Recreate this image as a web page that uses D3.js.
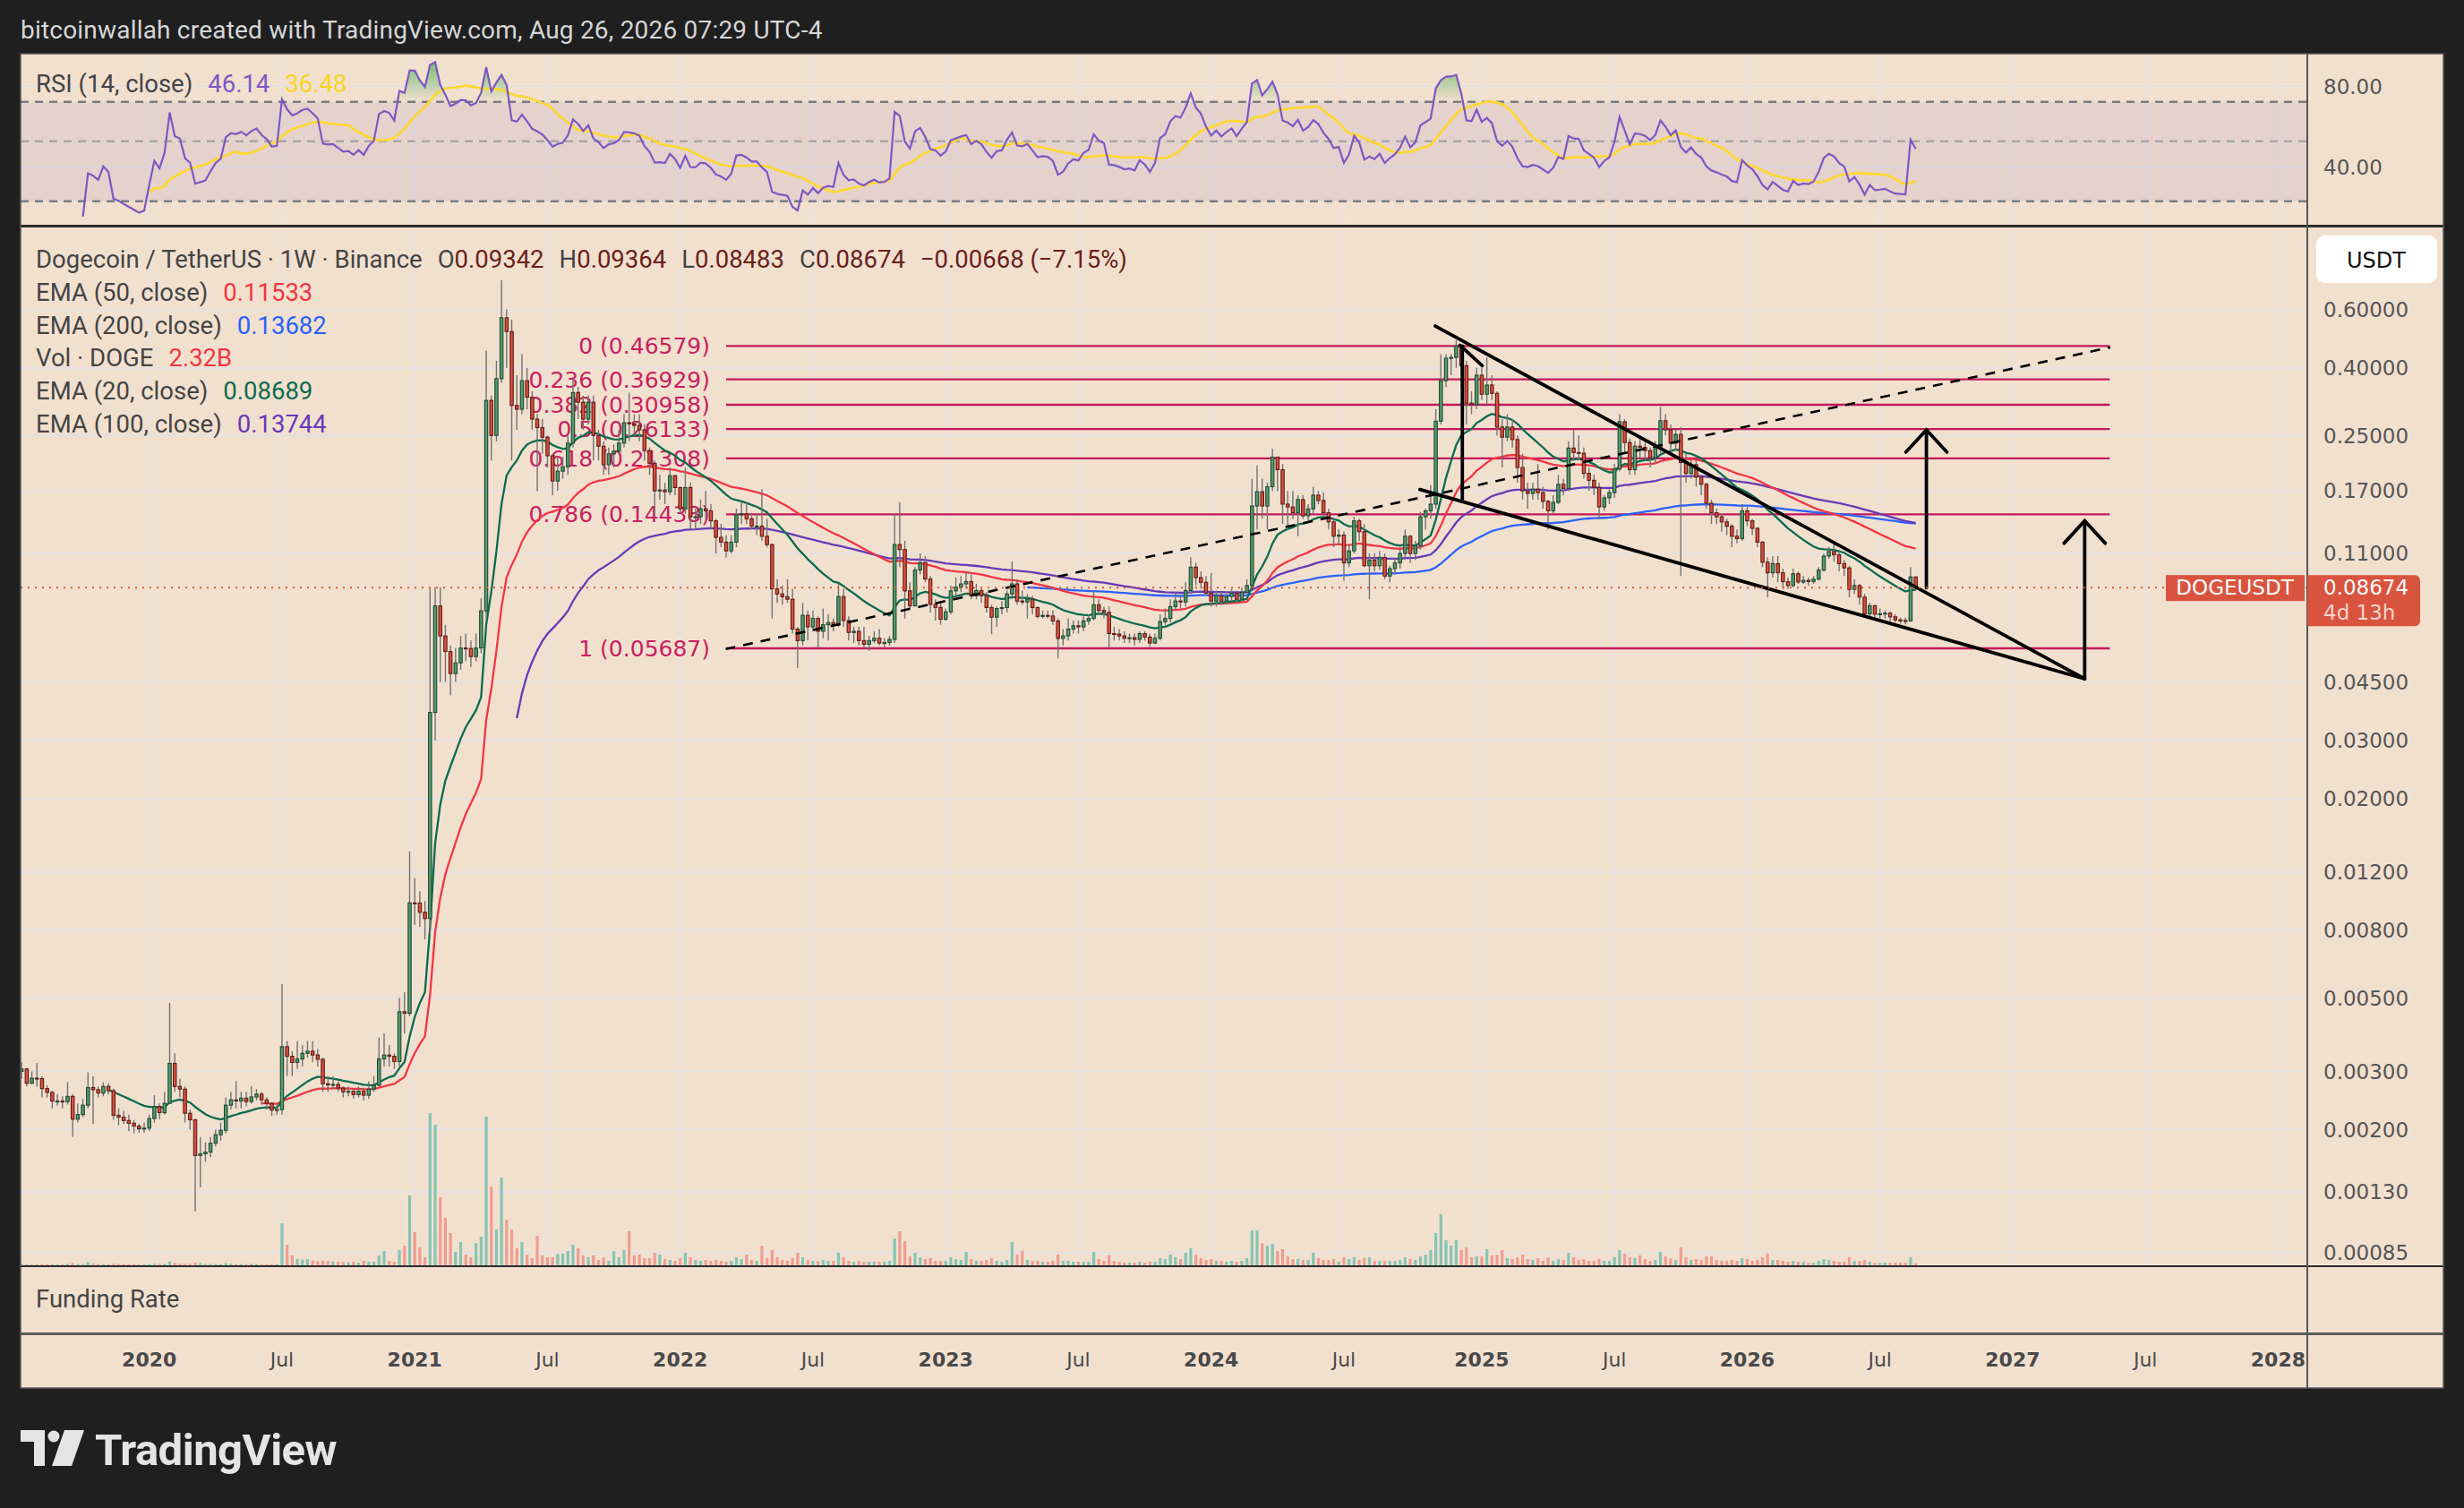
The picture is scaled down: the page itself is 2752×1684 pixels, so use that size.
<!DOCTYPE html>
<html lang="en">
<head>
<meta charset="UTF-8">
<title>DOGEUSDT 1W</title>
<script src="https://d3js.org/d3.v7.min.js"></script>
<style>
  html, body { margin: 0; padding: 0; background: #1f1f1f; }
  svg { display: block; }
</style>
</head>
<body>
<div id="chart"></div>
<script>
// weekly bars, first bar = week of 1 Jul 2019 (Binance DOGEUSDT)
const firstWeek = Date.UTC(2019, 6, 1);
const firstOpen = 0.0035;

// closes per calendar year (weeks starting in that year)
const c2019 = [0.0032,0.0030,0.00305,0.00276,0.00286,0.00285,0.00266,0.00259,0.00244,0.00244,0.00243,0.00252,0.00215,0.00222,0.00237,0.00268,0.00264,0.00258,0.00270,0.00262,0.00221,0.00218,0.00213,0.00209,0.00205,0.00201,0.00202];
const c2020 = [0.00216,0.00235,0.00225,0.0024,0.00317,0.0027,0.00265,0.00224,0.00214,0.00167,0.00169,0.00171,0.00182,0.00193,0.00199,0.00237,0.00246,0.00244,0.00249,0.00243,0.00251,0.00256,0.00246,0.0024,0.00229,0.0023,0.00356,0.00333,0.00319,0.00327,0.0034,0.00345,0.00336,0.00326,0.00275,0.00273,0.00274,0.00267,0.0026,0.00261,0.00255,0.00261,0.00254,0.00265,0.00272,0.00327,0.00336,0.00333,0.00321,0.00454,0.00449,0.00968];
const c2021 = [0.00967,0.00907,0.00868,0.0364,0.0764,0.062,0.0556,0.0477,0.0514,0.057,0.0568,0.0537,0.057,0.0738,0.319,0.25,0.371,0.567,0.515,0.308,0.30,0.366,0.326,0.28,0.264,0.247,0.217,0.182,0.195,0.201,0.237,0.337,0.315,0.28,0.315,0.25,0.232,0.204,0.22,0.224,0.237,0.273,0.271,0.268,0.26,0.225,0.206,0.17,0.171,0.169,0.189,0.174];
const c2022 = [0.150,0.174,0.142,0.142,0.150,0.148,0.138,0.123,0.119,0.112,0.119,0.144,0.145,0.140,0.133,0.133,0.124,0.117,0.086,0.083,0.0814,0.080,0.065,0.060,0.0715,0.066,0.070,0.064,0.067,0.068,0.067,0.0815,0.069,0.0635,0.064,0.060,0.0585,0.060,0.061,0.059,0.0592,0.0605,0.117,0.113,0.0848,0.0764,0.098,0.1032,0.0921,0.0772,0.0756,0.0696];
const c2023 = [0.0733,0.0848,0.087,0.089,0.0905,0.082,0.085,0.082,0.0755,0.0706,0.075,0.0755,0.083,0.089,0.079,0.0785,0.080,0.0755,0.071,0.0715,0.0712,0.0688,0.0609,0.062,0.065,0.0665,0.066,0.0688,0.070,0.077,0.074,0.073,0.063,0.0628,0.062,0.061,0.0612,0.0605,0.063,0.0615,0.059,0.061,0.0685,0.070,0.076,0.079,0.0785,0.085,0.100,0.093,0.090,0.0835];
const c2024 = [0.079,0.082,0.079,0.0815,0.0835,0.080,0.084,0.088,0.153,0.169,0.153,0.175,0.215,0.197,0.155,0.152,0.146,0.160,0.143,0.150,0.165,0.159,0.146,0.137,0.124,0.125,0.103,0.112,0.138,0.128,0.101,0.105,0.101,0.107,0.094,0.099,0.103,0.110,0.124,0.110,0.116,0.142,0.148,0.155,0.276,0.366,0.428,0.430,0.465,0.406,0.313,0.310,0.38];
const c2025 = [0.333,0.355,0.335,0.265,0.247,0.265,0.243,0.200,0.170,0.167,0.172,0.168,0.158,0.148,0.157,0.178,0.173,0.229,0.222,0.221,0.192,0.183,0.174,0.152,0.162,0.168,0.198,0.275,0.238,0.197,0.232,0.230,0.225,0.214,0.228,0.277,0.260,0.237,0.252,0.207,0.192,0.204,0.187,0.178,0.156,0.146,0.142,0.137,0.133,0.124,0.122,0.148];
const c2026 = [0.138,0.131,0.119,0.1035,0.0962,0.1025,0.0962,0.0904,0.088,0.0955,0.0902,0.0912,0.0905,0.092,0.098,0.108,0.1115,0.109,0.1025,0.0995,0.0857,0.088,0.0812,0.0723,0.0765,0.0721,0.0723,0.0726,0.0708,0.0693,0.0690,0.0688,0.09342,0.08674];

const h2019 = [0.0037,0.0033,0.0032,0.00307,0.0030,0.00318,0.0029,0.00272,0.00262,0.00256,0.00252,0.00278,0.00256,0.0024,0.00248,0.00298,0.0029,0.0027,0.00278,0.00276,0.00266,0.00232,0.00228,0.00222,0.00214,0.00208,0.0021];
const h2020 = [0.00222,0.00254,0.0024,0.0026,0.00483,0.0034,0.00285,0.0027,0.0023,0.00216,0.0019,0.00183,0.0019,0.002,0.0021,0.0025,0.0026,0.0028,0.0026,0.0026,0.0027,0.00265,0.0026,0.0025,0.00242,0.00238,0.00551,0.0037,0.00345,0.0037,0.0036,0.0037,0.0037,0.0035,0.0033,0.0029,0.0029,0.0028,0.0027,0.0027,0.00265,0.0027,0.00268,0.0028,0.0029,0.0038,0.0039,0.0036,0.0034,0.005,0.0052,0.01384];
const h2021 = [0.0115,0.0105,0.0098,0.0862,0.087,0.087,0.067,0.058,0.057,0.062,0.063,0.06,0.063,0.0805,0.451,0.33,0.42,0.736,0.60,0.56,0.38,0.44,0.40,0.34,0.29,0.28,0.25,0.22,0.215,0.215,0.25,0.37,0.35,0.33,0.33,0.33,0.26,0.24,0.23,0.235,0.26,0.29,0.337,0.29,0.29,0.27,0.23,0.21,0.19,0.18,0.20,0.19];
const h2022 = [0.175,0.20,0.18,0.15,0.16,0.17,0.155,0.14,0.135,0.125,0.125,0.15,0.157,0.157,0.145,0.145,0.172,0.14,0.118,0.092,0.088,0.092,0.086,0.066,0.078,0.074,0.074,0.071,0.075,0.072,0.070,0.089,0.086,0.071,0.066,0.066,0.066,0.062,0.064,0.065,0.061,0.062,0.145,0.157,0.12,0.09,0.10,0.11,0.108,0.094,0.08,0.078];
const h2023 = [0.075,0.088,0.093,0.094,0.097,0.095,0.089,0.087,0.084,0.077,0.076,0.079,0.085,0.104,0.092,0.085,0.083,0.082,0.076,0.074,0.074,0.074,0.070,0.065,0.070,0.069,0.069,0.071,0.072,0.085,0.080,0.076,0.076,0.066,0.065,0.064,0.063,0.063,0.064,0.064,0.063,0.063,0.072,0.075,0.080,0.084,0.082,0.090,0.107,0.103,0.097,0.094];
const h2024 = [0.096,0.085,0.084,0.083,0.086,0.085,0.087,0.092,0.185,0.203,0.185,0.18,0.228,0.21,0.205,0.17,0.17,0.165,0.165,0.155,0.175,0.17,0.168,0.15,0.14,0.13,0.128,0.117,0.142,0.14,0.135,0.11,0.11,0.112,0.11,0.101,0.106,0.113,0.13,0.125,0.12,0.147,0.15,0.177,0.30,0.44,0.44,0.44,0.484,0.47,0.42,0.34,0.40];
const h2025 = [0.40,0.43,0.38,0.34,0.28,0.29,0.28,0.25,0.22,0.18,0.18,0.205,0.175,0.16,0.165,0.19,0.185,0.24,0.26,0.25,0.23,0.20,0.19,0.18,0.165,0.172,0.205,0.29,0.28,0.245,0.24,0.25,0.24,0.23,0.24,0.305,0.29,0.27,0.26,0.265,0.22,0.21,0.21,0.19,0.18,0.16,0.15,0.145,0.14,0.135,0.13,0.155];
const h2026 = [0.152,0.14,0.132,0.12,0.107,0.108,0.108,0.099,0.093,0.099,0.097,0.094,0.093,0.094,0.10,0.11,0.115,0.118,0.111,0.105,0.101,0.092,0.089,0.083,0.078,0.077,0.075,0.074,0.0735,0.072,0.0705,0.0705,0.100,0.09364];

const l2019 = [0.0030,0.0029,0.00285,0.0027,0.00274,0.0027,0.0025,0.0025,0.00232,0.00236,0.00232,0.00238,0.0019,0.0021,0.00218,0.00232,0.00208,0.0025,0.00252,0.00255,0.00214,0.00206,0.00208,0.00198,0.00195,0.00196,0.00196];
const l2020 = [0.00198,0.0021,0.00215,0.00222,0.0024,0.0026,0.0025,0.0021,0.002,0.00113,0.00134,0.0016,0.00165,0.00178,0.00185,0.00195,0.0023,0.00232,0.00232,0.00235,0.0024,0.00245,0.00238,0.0023,0.0022,0.00222,0.00222,0.0029,0.0029,0.00305,0.0031,0.0033,0.0032,0.0031,0.0026,0.0026,0.00265,0.0026,0.0025,0.00252,0.00248,0.0025,0.00245,0.00248,0.0026,0.0027,0.0031,0.0031,0.00305,0.0031,0.0039,0.0044];
const l2021 = [0.0083,0.0082,0.0075,0.0078,0.030,0.045,0.045,0.041,0.045,0.049,0.052,0.05,0.052,0.055,0.07,0.21,0.24,0.36,0.40,0.21,0.26,0.29,0.30,0.26,0.17,0.22,0.20,0.165,0.17,0.185,0.19,0.23,0.28,0.26,0.27,0.21,0.21,0.19,0.19,0.20,0.22,0.23,0.24,0.25,0.24,0.21,0.19,0.145,0.16,0.155,0.165,0.165];
const l2022 = [0.145,0.145,0.13,0.13,0.135,0.14,0.13,0.11,0.115,0.107,0.11,0.115,0.135,0.135,0.13,0.125,0.12,0.115,0.07,0.078,0.077,0.078,0.063,0.0495,0.058,0.060,0.064,0.057,0.061,0.060,0.064,0.066,0.066,0.060,0.059,0.058,0.057,0.056,0.059,0.058,0.057,0.058,0.059,0.10,0.070,0.075,0.076,0.095,0.09,0.073,0.069,0.067];
const l2023 = [0.069,0.072,0.082,0.084,0.086,0.080,0.080,0.078,0.073,0.0627,0.066,0.072,0.073,0.080,0.077,0.077,0.070,0.072,0.070,0.070,0.070,0.067,0.053,0.058,0.060,0.063,0.063,0.064,0.067,0.069,0.072,0.070,0.057,0.060,0.060,0.059,0.059,0.058,0.059,0.060,0.0575,0.0585,0.060,0.067,0.068,0.074,0.075,0.076,0.083,0.088,0.086,0.082];
const l2024 = [0.076,0.076,0.077,0.077,0.079,0.078,0.079,0.083,0.087,0.13,0.14,0.13,0.17,0.17,0.135,0.13,0.14,0.124,0.14,0.138,0.145,0.155,0.14,0.13,0.115,0.117,0.091,0.10,0.11,0.12,0.10,0.08,0.097,0.098,0.092,0.09,0.095,0.099,0.107,0.103,0.105,0.113,0.13,0.14,0.15,0.27,0.35,0.38,0.40,0.35,0.27,0.29,0.30];
const l2025 = [0.32,0.31,0.32,0.25,0.20,0.24,0.23,0.18,0.16,0.15,0.16,0.16,0.15,0.13,0.145,0.155,0.165,0.17,0.21,0.21,0.185,0.17,0.165,0.14,0.148,0.155,0.162,0.195,0.22,0.19,0.19,0.21,0.21,0.20,0.205,0.22,0.25,0.22,0.225,0.094,0.18,0.185,0.175,0.165,0.15,0.135,0.135,0.128,0.125,0.115,0.118,0.12];
const l2026 = [0.133,0.125,0.115,0.10,0.081,0.093,0.09,0.086,0.086,0.087,0.089,0.089,0.088,0.089,0.091,0.097,0.106,0.104,0.097,0.094,0.081,0.083,0.077,0.071,0.070,0.0705,0.070,0.070,0.0685,0.068,0.0675,0.0672,0.0685,0.08483];

// weekly volume, billions of DOGE
const v2019 = [1.8,1.6,1.4,1.3,1.2,1.3,1.4,1.2,1.3,1.1,1.2,1.5,2.6,1.6,1.3,3.8,2.2,1.5,1.3,1.2,1.9,1.4,1.3,1.2,1.3,1.1,1.2];
const v2020 = [1.4,1.9,1.5,1.6,4.2,2.8,1.8,1.9,1.6,3.2,2.4,1.6,1.5,1.5,1.3,2.5,1.9,1.4,1.5,1.3,1.6,1.4,1.3,1.2,1.5,1.2,47,23,11,7,6.5,7,5.5,4.8,5.5,5,4.4,4,3.6,3.5,4,3,5,4,4,11,16,5,4,17,22,78];
const v2021 = [37,20,9,170,157,76,53,36,15,26,12,9,25,32,166,88,40,98,51,40,19,26,12,8,33,11,9,9,13,13,16,23,19,11,9,11,6,9,5,16,9,17,38,11,12,8,8,14,12,7,6,5];
const v2022 = [8,14,9,6,5,6,5,6,5,4,5,9,7,12,6,5,22,8,17,9,6,5,8,14,9,6,5,5,6,5,5,14,9,5,4,5,4,4,4,4,4,5,30,38,27,10,14,9,7,8,5,5];
const v2023 = [5,9,7,6,15,7,5,5,6,8,5,4,6,26,12,16,6,5,5,4,4,5,12,5,5,4,4,4,4,15,7,5,11,5,4,3,3,3,4,3,4,4,8,7,12,9,7,14,19,12,8,6];
const v2024 = [7,5,5,4,5,4,5,8,39,39,25,22,24,16,18,10,7,7,6,6,14,8,6,6,7,4,9,7,9,6,8,9,5,5,5,5,5,6,9,7,6,10,12,17,36,57,28,22,28,17,20,9,10];
const v2025 = [10,18,11,12,17,8,7,9,12,7,6,8,5,9,5,7,6,14,9,6,7,5,5,7,5,5,9,17,13,9,8,11,7,5,6,15,10,8,6,20,9,6,7,6,10,10,6,5,5,6,5,8];
const v2026 = [7,5,6,9,13,6,6,5,4,5,4,4,3,3,5,7,6,5,4,4,9,5,5,6,4,3,3,3,3,3,3,3,9,2.32];

// price-axis ticks and fib retracement (drawn from the 2024 high to the 2022 low)
const priceTicks = [0.6, 0.4, 0.25, 0.17, 0.11, 0.045, 0.03, 0.02, 0.012, 0.008, 0.005, 0.003, 0.002, 0.0013, 0.00085];
const rsiTicks = [80, 40];
const fibRatios = [0, 0.236, 0.382, 0.5, 0.618, 0.786, 1];
const fibPrices = [0.46579, 0.36929, 0.30958, 0.26133, 0.21308, 0.14438, 0.05687];
const fibSpan = [140, 411]; // bar index

// hand drawings, [bar index, price]
const wedgeUpper = [[278.9, 0.535], [406.1, 0.046]];
const wedgeLower = [[275.9, 0.1716], [406.1, 0.046]];
const flagpole = [[284.2, 0.466], [284.2, 0.1596]];
const peakTick = [[283.75, 0.468], [288.1, 0.406]];
const trendDashed = [[139.9, 0.0566], [411.1, 0.4614]];
const targetArrows = [[[375.1, 0.0866], [375.1, 0.260]], [[406.1, 0.046], [406.1, 0.138]]];

const lastPrice = 0.08674;

const closes = [].concat(c2019, c2020, c2021, c2022, c2023, c2024, c2025, c2026);
const highs = [].concat(h2019, h2020, h2021, h2022, h2023, h2024, h2025, h2026);
const lows = [].concat(l2019, l2020, l2021, l2022, l2023, l2024, l2025, l2026);
const volumes = [].concat(v2019, v2020, v2021, v2022, v2023, v2024, v2025, v2026);

const bars = closes.map((c, i) => {
  const o = i === 0 ? firstOpen : closes[i - 1];
  return { i, o, c, h: Math.max(highs[i], o, c), l: Math.min(lows[i], o, c), v: volumes[i], up: c >= o };
});

// indicators
function ema(src, len) {
  const out = src.map(() => null);
  const a = 2 / (len + 1);
  let prev = null;
  for (let i = len - 1; i < src.length; i++) {
    prev = prev === null ? d3.mean(src.slice(0, len)) : a * src[i] + (1 - a) * prev;
    out[i] = prev;
  }
  return out;
}
function rsi(src, len) {
  const out = src.map(() => null);
  let ag = 0, al = 0;
  for (let i = 1; i < src.length; i++) {
    const ch = src[i] - src[i - 1];
    const g = Math.max(ch, 0), l = Math.max(-ch, 0);
    if (i <= len) {
      ag += g; al += l;
      if (i === len) { ag /= len; al /= len; out[i] = 100 - 100 / (1 + ag / al); }
    } else {
      ag = (ag * (len - 1) + g) / len;
      al = (al * (len - 1) + l) / len;
      out[i] = al === 0 ? 100 : 100 - 100 / (1 + ag / al);
    }
  }
  return out;
}
const rsiVals = rsi(closes, 14);
const rsiMa = rsiVals.map((d, i) => {
  const w = rsiVals.slice(i - 13, i + 1);
  return i >= 13 && w.every(v => v !== null) ? d3.mean(w) : null;
});
const emaSeries = [
  { len: 200, color: '#2962ff', vals: ema(closes, 200) },
  { len: 100, color: '#673ab7', vals: ema(closes, 100) },
  { len: 50, color: '#f23645', vals: ema(closes, 50) },
  { len: 20, color: '#0b6b4e', vals: ema(closes, 20) }
];

// layout
const W = 2752, H = 1684;
const left = 23, plotRight = 2577, right = 2729;
const rsiTop = 60, rsiBottom = 251, mainTop = 254, mainBottom = 1413;
const fundTop = 1415, fundBottom = 1488, axisTop = 1492, axisBottom = 1550;
const bg = '#f2e0cf', grid = '#e7e1de';

const x = d3.scaleLinear().domain([0, 444]).range([12.75, 12.75 + 444 * 5.702]);
const y = d3.scaleLog().domain([0.00085, 0.6]).range([1398.8, 345.7]);
const yRsi = d3.scaleLog().domain([40, 80]).range([187, 96.3]);
const yVol = d3.scaleLinear().domain([0, d3.max(volumes)]).range([0, 170]);

const weekMs = 7 * 864e5;
const timeLabels = [];
for (let yr = 2020; yr <= 2028; yr++) {
  timeLabels.push({ text: String(yr), major: true, idx: Math.ceil((Date.UTC(yr, 0, 1) - firstWeek) / weekMs) });
  if (yr < 2028) timeLabels.push({ text: 'Jul', major: false, idx: Math.ceil((Date.UTC(yr, 6, 1) - firstWeek) / weekMs) });
}

const svg = d3.select('#chart').append('svg')
  .attr('width', W).attr('height', H)
  .style('font-family', 'Roboto, "Noto Sans", sans-serif');

svg.append('rect').attr('width', W).attr('height', H).attr('fill', '#1f1f1f');
svg.append('rect').attr('x', left).attr('y', rsiTop).attr('width', right - left).attr('height', axisBottom - rsiTop).attr('fill', bg);

const defs = svg.append('defs');
defs.append('clipPath').attr('id', 'clipMain').append('rect')
  .attr('x', left).attr('y', mainTop).attr('width', plotRight - left).attr('height', mainBottom - mainTop);
defs.append('clipPath').attr('id', 'clipRsi').append('rect')
  .attr('x', left).attr('y', rsiTop).attr('width', plotRight - left).attr('height', rsiBottom - rsiTop);
defs.append('clipPath').attr('id', 'clipOb').append('rect')
  .attr('x', left).attr('y', rsiTop).attr('width', plotRight - left).attr('height', yRsi(70) - rsiTop);
defs.append('clipPath').attr('id', 'clipOs').append('rect')
  .attr('x', left).attr('y', yRsi(30)).attr('width', plotRight - left).attr('height', rsiBottom - yRsi(30));
const ob = defs.append('linearGradient').attr('id', 'obGrad').attr('gradientUnits', 'userSpaceOnUse')
  .attr('x1', 0).attr('x2', 0).attr('y1', yRsi(100)).attr('y2', yRsi(70));
ob.append('stop').attr('offset', 0).attr('stop-color', '#4caf50').attr('stop-opacity', 0.75);
ob.append('stop').attr('offset', 1).attr('stop-color', '#4caf50').attr('stop-opacity', 0);
const os = defs.append('linearGradient').attr('id', 'osGrad').attr('gradientUnits', 'userSpaceOnUse')
  .attr('x1', 0).attr('x2', 0).attr('y1', yRsi(30)).attr('y2', yRsi(15));
os.append('stop').attr('offset', 0).attr('stop-color', '#f23645').attr('stop-opacity', 0);
os.append('stop').attr('offset', 1).attr('stop-color', '#f23645').attr('stop-opacity', 0.6);

// grid
const gridG = svg.append('g').attr('stroke', grid).attr('stroke-width', 2).attr('shape-rendering', 'crispEdges');
timeLabels.forEach(t => {
  const xx = x(t.idx);
  gridG.append('line').attr('x1', xx).attr('x2', xx).attr('y1', rsiTop).attr('y2', rsiBottom);
  gridG.append('line').attr('x1', xx).attr('x2', xx).attr('y1', mainTop).attr('y2', mainBottom);
});
priceTicks.forEach(p => gridG.append('line').attr('x1', left).attr('x2', plotRight).attr('y1', y(p)).attr('y2', y(p)));
rsiTicks.forEach(r => gridG.append('line').attr('x1', left).attr('x2', plotRight).attr('y1', yRsi(r)).attr('y2', yRsi(r)));

// RSI pane
const rsiG = svg.append('g').attr('clip-path', 'url(#clipRsi)');
rsiG.append('rect').attr('x', left).attr('width', plotRight - left)
  .attr('y', yRsi(70)).attr('height', yRsi(30) - yRsi(70)).attr('fill', '#7e57c2').attr('opacity', 0.1);
[[70, '#7a7a80'], [50, '#a9a6a6'], [30, '#7a7a80']].forEach(([lv, col]) => {
  rsiG.append('line').attr('x1', left).attr('x2', plotRight).attr('y1', yRsi(lv)).attr('y2', yRsi(lv))
    .attr('stroke', col).attr('stroke-width', 2.5).attr('stroke-dasharray', '9,7');
});
const rsiPts = bars.filter(b => rsiVals[b.i] !== null);
rsiG.append('path').datum(rsiPts).attr('clip-path', 'url(#clipOb)')
  .attr('fill', 'url(#obGrad)')
  .attr('d', d3.area().x(b => x(b.i)).y0(yRsi(70)).y1(b => yRsi(Math.max(rsiVals[b.i], 70))));
rsiG.append('path').datum(rsiPts).attr('clip-path', 'url(#clipOs)')
  .attr('fill', 'url(#osGrad)')
  .attr('d', d3.area().x(b => x(b.i)).y0(yRsi(30)).y1(b => yRsi(Math.min(rsiVals[b.i], 30))));
rsiG.append('path').datum(bars.filter(b => rsiMa[b.i] !== null))
  .attr('fill', 'none').attr('stroke', '#fdd835').attr('stroke-width', 2.8)
  .attr('d', d3.line().x(b => x(b.i)).y(b => yRsi(rsiMa[b.i])));
rsiG.append('path').datum(rsiPts)
  .attr('fill', 'none').attr('stroke', '#7e57c2').attr('stroke-width', 2.2)
  .attr('d', d3.line().x(b => x(b.i)).y(b => yRsi(rsiVals[b.i])));

// main pane
const mainG = svg.append('g').attr('clip-path', 'url(#clipMain)');

mainG.append('g').selectAll('rect').data(bars).join('rect')
  .attr('x', b => x(b.i) - 1.6).attr('width', 3.2)
  .attr('y', b => mainBottom - yVol(b.v)).attr('height', b => yVol(b.v))
  .attr('fill', b => b.up ? '#86c4b3' : '#ef9d90');

const fibG = mainG.append('g');
fibPrices.forEach((p, k) => {
  fibG.append('line').attr('x1', x(fibSpan[0])).attr('x2', x(fibSpan[1])).attr('y1', y(p)).attr('y2', y(p))
    .attr('stroke', '#c2185b').attr('stroke-width', 2.4);
  fibG.append('text').attr('x', x(fibSpan[0]) - 18).attr('y', y(p)).attr('dy', '0.36em')
    .attr('text-anchor', 'end').attr('fill', '#c8215f')
    .style('font-family', '"DejaVu Sans", sans-serif').style('font-size', '25px')
    .text(`${fibRatios[k]} (${p.toFixed(5)})`);
});

const lineGen = d3.line().defined(d => d.v !== null).x(d => x(d.i)).y(d => y(d.v));
emaSeries.forEach(s => {
  mainG.append('path').datum(s.vals.map((v, i) => ({ i, v })))
    .attr('fill', 'none').attr('stroke', s.color).attr('stroke-width', 2.3)
    .attr('d', lineGen);
});

const candleG = mainG.append('g');
candleG.selectAll('line').data(bars).join('line')
  .attr('x1', b => x(b.i)).attr('x2', b => x(b.i))
  .attr('y1', b => y(b.h)).attr('y2', b => y(b.l))
  .attr('stroke', '#727272').attr('stroke-width', 1.4);
candleG.selectAll('rect').data(bars).join('rect')
  .attr('x', b => x(b.i) - 1.7).attr('width', 3.4)
  .attr('y', b => y(Math.max(b.o, b.c)))
  .attr('height', b => Math.max(1, Math.abs(y(b.o) - y(b.c))))
  .attr('fill', b => b.up ? '#559a6d' : '#d9503f')
  .attr('stroke', b => b.up ? '#1c4a31' : '#5e1a14').attr('stroke-width', 1.1);

// drawings
const pt = d => [x(d[0]), y(d[1])];
const drawG = mainG.append('g').attr('stroke', '#000').attr('fill', 'none').attr('stroke-linecap', 'round');
[wedgeUpper, wedgeLower, flagpole, peakTick].forEach(seg => {
  drawG.append('path').attr('stroke-width', 3.8).attr('d', d3.line()(seg.map(pt)));
});
drawG.append('path').attr('stroke-width', 2.6).attr('stroke-dasharray', '11,9').attr('stroke-linecap', 'butt')
  .attr('d', d3.line()(trendDashed.map(pt)));
targetArrows.forEach(seg => {
  const [bx, by] = pt(seg[0]);
  const [tx, ty] = pt(seg[1]);
  drawG.append('path').attr('stroke-width', 3.8).attr('d', `M${bx},${by}L${tx},${ty}`);
  drawG.append('path').attr('stroke-width', 3.8).attr('stroke-linejoin', 'miter')
    .attr('d', `M${tx - 23},${ty + 25}L${tx},${ty}L${tx + 23},${ty + 25}`);
});

mainG.append('line').attr('x1', left).attr('x2', plotRight).attr('y1', y(lastPrice)).attr('y2', y(lastPrice))
  .attr('stroke', '#d9543f').attr('stroke-width', 2).attr('stroke-dasharray', '2,6');

// pane separators and axis border
svg.append('rect').attr('x', left).attr('y', rsiBottom).attr('width', right - left).attr('height', 3).attr('fill', '#2b2b2b');
svg.append('rect').attr('x', left).attr('y', mainBottom).attr('width', right - left).attr('height', 2).attr('fill', '#2b2b2b');
svg.append('rect').attr('x', left).attr('y', fundBottom).attr('width', right - left).attr('height', 3).attr('fill', '#5a5a5a');
svg.append('rect').attr('x', plotRight - 1).attr('y', rsiTop).attr('width', 2).attr('height', axisBottom - rsiTop).attr('fill', '#555');
svg.append('rect').attr('x', left).attr('y', rsiTop).attr('width', right - left).attr('height', axisBottom - rsiTop)
  .attr('fill', 'none').attr('stroke', '#5a5a5a').attr('stroke-width', 1.5);

// price axis
const axisFont = '"DejaVu Sans", sans-serif';
const axG = svg.append('g').style('font-family', axisFont).style('font-size', '23px').attr('fill', '#555');
priceTicks.forEach(p => axG.append('text').attr('x', 2595).attr('y', y(p)).attr('dy', '0.36em').text(p.toFixed(5)));
rsiTicks.forEach(r => axG.append('text').attr('x', 2595).attr('y', yRsi(r)).attr('dy', '0.36em').text(r.toFixed(2)));

svg.append('rect').attr('x', 2587).attr('y', 263).attr('width', 135).attr('height', 53).attr('rx', 9).attr('fill', '#fff');
svg.append('text').attr('x', 2654).attr('y', 290).attr('dy', '0.36em').attr('text-anchor', 'middle')
  .style('font-family', axisFont).style('font-size', '24px').attr('fill', '#111').text('USDT');

const py = y(lastPrice);
svg.append('path').attr('fill', '#d9543f')
  .attr('d', `M${plotRight},${py - 14}H2697a6,6 0 0 1 6,6V${py + 37}a6,6 0 0 1 -6,6H${plotRight}Z`);
svg.append('text').attr('x', 2595).attr('y', py).attr('dy', '0.36em')
  .style('font-family', axisFont).style('font-size', '23px').attr('fill', '#fff').text(lastPrice.toFixed(5));
svg.append('text').attr('x', 2595).attr('y', py + 28).attr('dy', '0.36em')
  .style('font-family', axisFont).style('font-size', '23px').attr('fill', '#f8d3cc').text('4d 13h');
svg.append('rect').attr('x', 2419).attr('y', py - 14).attr('width', 155).attr('height', 29).attr('fill', '#d9543f');
svg.append('text').attr('x', 2496).attr('y', py).attr('dy', '0.36em').attr('text-anchor', 'middle')
  .style('font-family', axisFont).style('font-size', '23px').attr('fill', '#fff').text('DOGEUSDT');

// time axis
const tG = svg.append('g').style('font-family', axisFont).style('font-size', '22px').attr('fill', '#4a4a4a');
timeLabels.forEach(t => {
  tG.append('text').attr('x', x(t.idx)).attr('y', 1518).attr('dy', '0.36em').attr('text-anchor', 'middle')
    .style('font-weight', t.major ? 'bold' : 'normal').text(t.text);
});

// legends
const legFont = '27.5px';
function legendRow(yy, parts) {
  const t = svg.append('text').attr('x', 40).attr('y', yy).attr('dy', '0.36em').style('font-size', legFont);
  parts.forEach(([txt, col, dx]) => t.append('tspan').attr('fill', col).attr('dx', dx || 0).text(txt));
}
legendRow(93, [['RSI (14, close)', '#444'], ['46.14', '#7e57c2', 17], ['36.48', '#f9d423', 17]]);
const dn = '#6b211c', lab = '#444';
legendRow(289, [['Dogecoin / TetherUS · 1W · Binance', lab], ['O', lab, 17], ['0.09342', dn], ['H', lab, 17], ['0.09364', dn],
  ['L', lab, 17], ['0.08483', dn], ['C', lab, 17], ['0.08674', dn], ['−0.00668 (−7.15%)', dn, 17]]);
legendRow(326, [['EMA (50, close)', lab], ['0.11533', '#f23645', 17]]);
legendRow(363, [['EMA (200, close)', lab], ['0.13682', '#2962ff', 17]]);
legendRow(399, [['Vol · DOGE', lab], ['2.32B', '#f23645', 17]]);
legendRow(436, [['EMA (20, close)', lab], ['0.08689', '#0b6b4e', 17]]);
legendRow(473, [['EMA (100, close)', lab], ['0.13744', '#673ab7', 17]]);

svg.append('text').attr('x', 40).attr('y', 1450).attr('dy', '0.36em').style('font-size', legFont)
  .attr('fill', '#444').text('Funding Rate');

// header and footer
svg.append('text').attr('x', 23).attr('y', 33).attr('dy', '0.36em').style('font-size', '28px')
  .style('letter-spacing', '0.2px')
  .attr('fill', '#d6d6d6').text('bitcoinwallah created with TradingView.com, Aug 26, 2026 07:29 UTC-4');

const logo = svg.append('g').attr('fill', '#e4e4e4');
logo.append('path').attr('d', 'M23,1597H50V1637H38V1610H23Z');
logo.append('circle').attr('cx', 60).attr('cy', 1604).attr('r', 6.5);
logo.append('path').attr('d', 'M72,1597H94L80,1637H58Z');
logo.append('text').attr('x', 106).attr('y', 1618).attr('dy', '0.36em')
  .style('font-size', '49px').style('font-weight', 'bold').style('letter-spacing', '-0.5px').text('TradingView');
</script>
</body>
</html>
